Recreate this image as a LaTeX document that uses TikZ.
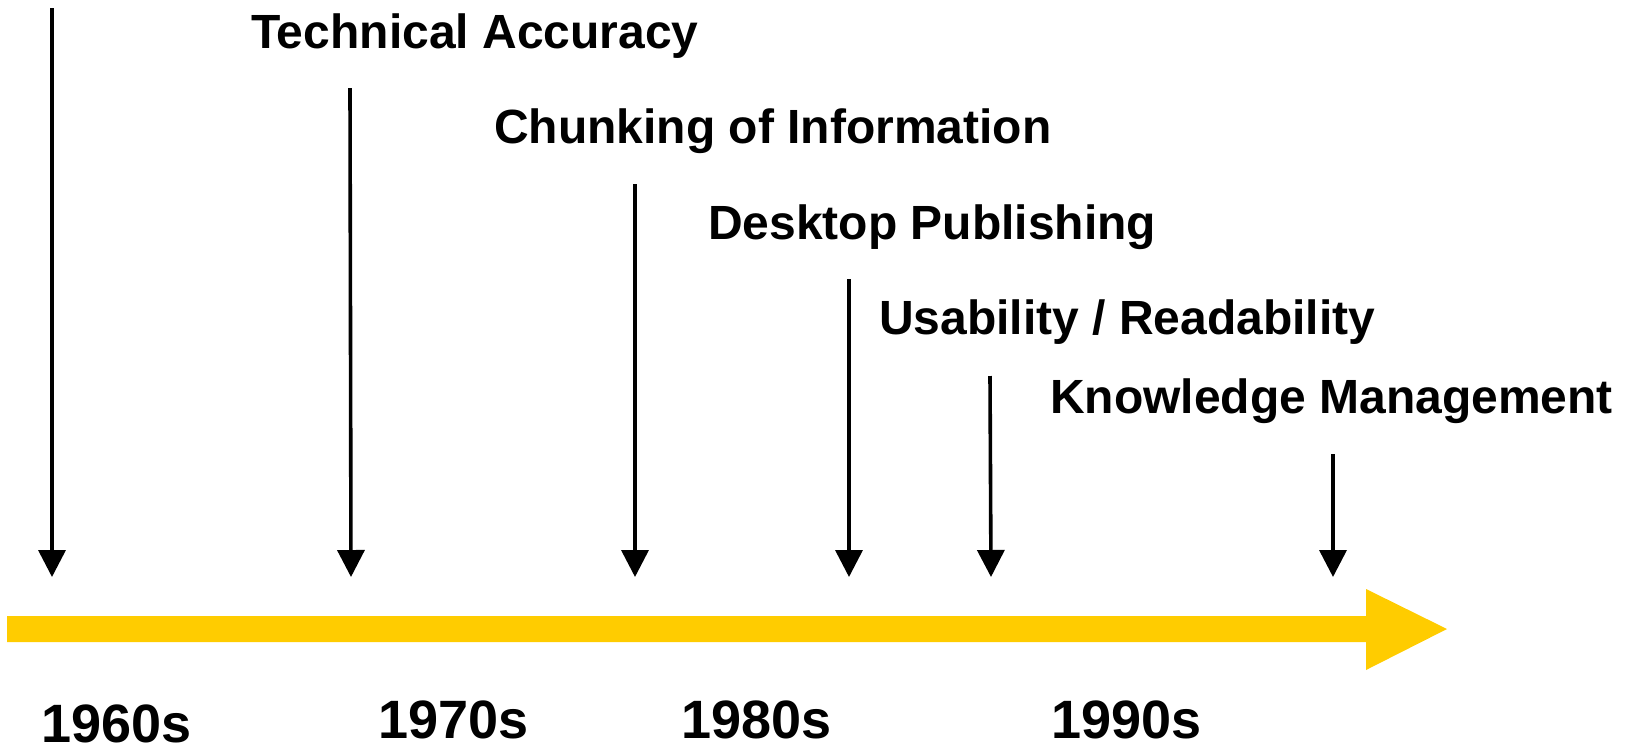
\documentclass[tikz,border=0pt]{standalone}
\usepackage{fontspec}
\setmainfont{Liberation Sans}
\usetikzlibrary{arrows.meta}
\definecolor{timeyellow}{HTML}{FFCC00}
\tikzset{
  label/.style={font=\fontsize{48}{58}\selectfont\bfseries, anchor=base west, inner sep=0pt},
  year/.style={font=\fontsize{54}{64}\selectfont\bfseries, anchor=base west, inner sep=0pt},
  pointer/.style={line width=3.6pt, -{Triangle[width=27pt,length=27pt]}, shorten >=0pt},
}
\begin{document}
\begin{tikzpicture}[x=1pt,y=-1pt]
\useasboundingbox (0,0) rectangle (1628,745);
% timeline arrow
\fill[timeyellow] (7,616) -- (1366,616) -- (1366,589) -- (1447,629) -- (1366,670) -- (1366,642) -- (7,642) -- cycle;
% labels
\node[label] (tech) at (251,48) {Technical Accuracy};
\node[label] (chunk) at (494,143) {Chunking of Information};
\node[label] (desk) at (708,239) {Desktop Publishing};
\node[label] (usab) at (879,334) {Usability / Readability};
\node[label] (know) at (1050,413) {Knowledge Management};
% years
\node[year] (y60) at (41,742) {1960s};
\node[year] (y70) at (378,738) {1970s};
\node[year] (y80) at (681,738) {1980s};
\node[year] (y90) at (1051,738) {1990s};
% pointer coordinates
\coordinate (s1) at (52,8);    \coordinate (e1) at (52,577);
\coordinate (s2) at (350,88);  \coordinate (e2) at (351,577);
\coordinate (s3) at (635,184); \coordinate (e3) at (635,577);
\coordinate (s4) at (849,279); \coordinate (e4) at (849,577);
\coordinate (s5) at (990,376); \coordinate (e5) at (991,577);
\coordinate (s6) at (1333,454);\coordinate (e6) at (1333,577);
\foreach \i in {1,...,6} \draw[pointer] (s\i) -- (e\i);
\end{tikzpicture}
\end{document}
